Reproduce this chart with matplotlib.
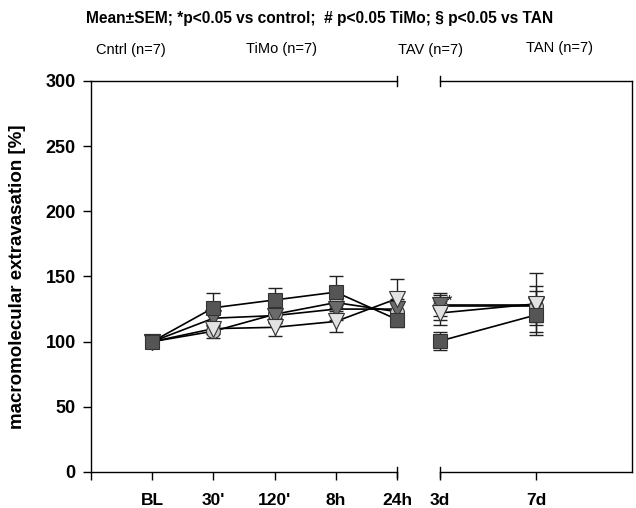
import matplotlib
matplotlib.use("Agg")
import matplotlib.pyplot as plt
import numpy as np

plt.rcParams['font.family'] = ['Liberation Sans', 'DejaVu Sans']

# ---- data ----
early_labels = ["BL", "30'", "120'", "8h", "24h"]
late_labels = ["3d", "7d"]
groups = ["Cntrl (n=7)", "TiMo (n=7)", "TAV (n=7)", "TAN (n=7)"]

cntrl_early = [100, 108, 121, 130, 123]
cntrl_late = [127, 127]
cntrl_err_early = [2, 5, 6, 8, 8]
cntrl_err_late = [10, 12]

timo_early = [100, 118, 120, 125, 125]
timo_late = [128, 128]
timo_err_early = [2, 6, 6, 8, 8]
timo_err_late = [8, 15]

tav_early = [100, 110, 111, 115.5, 133]
tav_late = [122, 129]
tav_err_early = [2, 4, 7, 8, 15]
tav_err_late = [9, 24]

tan_early = [100, 126, 132, 138, 117]
tan_late = [100.5, 120.5]
tan_err_early = [2, 11, 9, 12, 6]
tan_err_late = [7, 13]

series = [
    (cntrl_early, cntrl_late, cntrl_err_early, cntrl_err_late, 'o', '#c8c8c8', 10),
    (timo_early, timo_late, timo_err_early, timo_err_late, 'v', '#6a6a6a', 11),
    (tav_early, tav_late, tav_err_early, tav_err_late, 'v', '#e2e2e2', 11),
    (tan_early, tan_late, tan_err_early, tan_err_late, 's', '#555555', 9.5),
]

W, H = 636, 508
fig = plt.figure(figsize=(W / 100, H / 100), dpi=100)

def fx(px):
    return px / W

def fy(py):
    return 1 - py / H

ax1 = fig.add_axes([fx(91), fy(472), fx(397) - fx(91), fy(81) - fy(472)])
ax2 = fig.add_axes([fx(440), fy(472), fx(632) - fx(440), fy(81) - fy(472)])

xe = np.arange(1, len(early_labels) + 1)
xl = np.arange(0, len(late_labels))

for i, (e, l, ee, el, m, c, ms) in enumerate(series):
    for ax, xs, ys, er in ((ax1, xe, e, ee), (ax2, xl, l, el)):
        ax.errorbar(xs, ys, yerr=er, fmt='-', color='black', lw=1.2,
                    ecolor='#222222', elinewidth=1.0, capsize=5, capthick=1.0,
                    zorder=2 + i, clip_on=False)
        ax.plot(xs, ys, linestyle='none', marker=m, markersize=ms,
                markerfacecolor=c, markeredgecolor='#333333', markeredgewidth=0.8,
                zorder=10 + i, clip_on=False)

for ax in (ax1, ax2):
    ax.set_ylim(0, 300)
    for s in ax.spines.values():
        s.set_color('black')
        s.set_linewidth(1.0)

ax1.set_xlim(0, 5)
ax1.set_xticks(np.arange(0, 6))
ax1.set_xticklabels([''] + early_labels, fontsize=12.5, fontweight='bold')
ax1.set_yticks(np.arange(0, 301, 50))
ax1.set_yticklabels([str(v) for v in range(0, 301, 50)], fontsize=13, fontweight='bold')
ax1.spines['right'].set_visible(False)
ax1.tick_params(axis='x', direction='out', length=6, width=1.0, pad=9)
ax1.tick_params(axis='y', direction='out', length=6, width=1.0, pad=5)
ax1.set_ylabel('macromolecular extravasation [%]', fontsize=13.5, fontweight='bold', labelpad=14)

ax2.set_xlim(0, 2)
ax2.set_xticks([0, 1])
ax2.set_xticklabels(late_labels, fontsize=12.5, fontweight='bold')
ax2.spines['left'].set_visible(False)
ax2.set_yticks([])
ax2.tick_params(axis='x', direction='out', length=6, width=1.0, pad=9)

# break markers
for ax, xa in ((ax1, 1.0), (ax2, 0.0)):
    for ya in (0.0, 1.0):
        ax.plot([xa, xa], [ya - 0.012, ya + 0.012], color='black', lw=1.0,
                transform=ax.transAxes, clip_on=False)

ax2.text(0.07, 131, '*', fontsize=10, ha='left', va='center')

fig.text(fx(320), fy(18), 'Mean\u00b1SEM; *p<0.05 vs control;  # p<0.05 TiMo; \u00a7 p<0.05 vs TAN',
         fontsize=11.2, fontweight='bold', ha='center', va='center')
label_pos = [(131, 50), (281, 49), (430, 50), (560, 48)]
for g, (px, py) in zip(groups, label_pos):
    fig.text(fx(px), fy(py), g, fontsize=10.5, ha='center', va='center')

fig.savefig('out.png', dpi=100)
